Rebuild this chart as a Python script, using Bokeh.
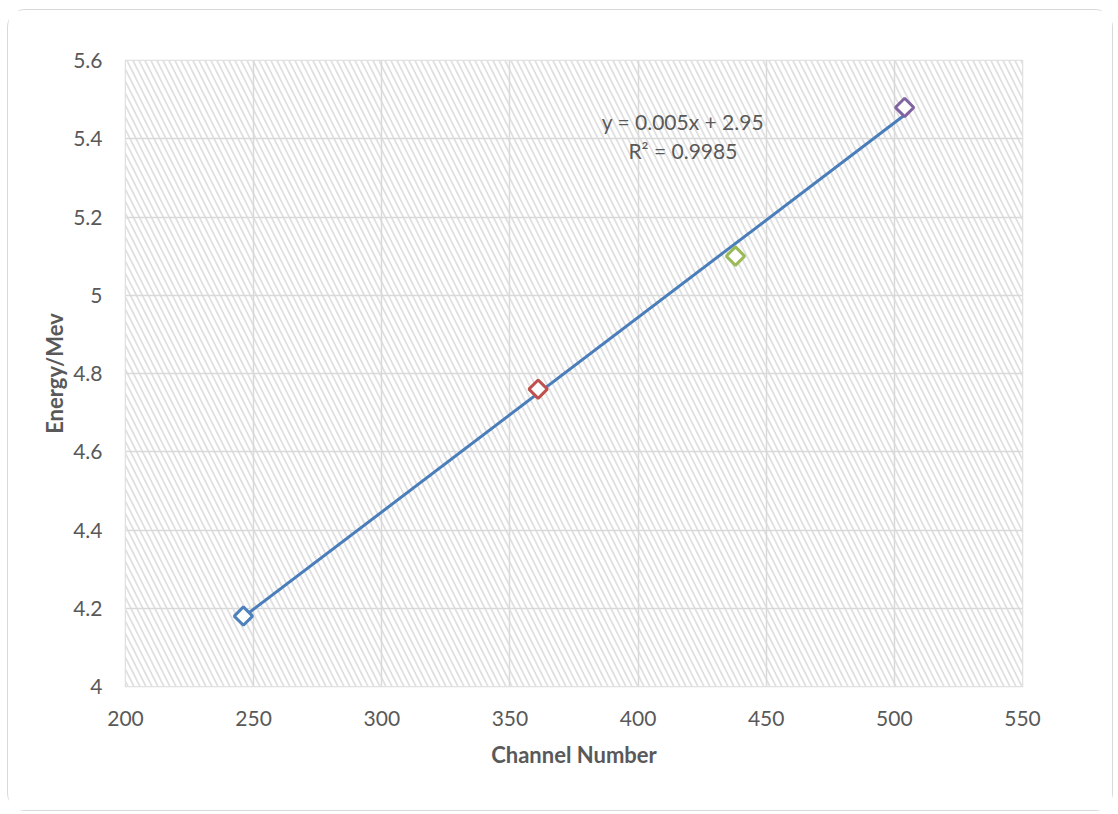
import numpy as np
from bokeh.plotting import figure
from bokeh.models import FixedTicker, BoxAnnotation, Label, ColumnDataSource
from bokeh.embed import file_html
from bokeh.resources import INLINE

# ---- data ----
channel = [246, 361, 438, 504]
energy = [4.18, 4.76, 5.10, 5.48]
point_colors = ["#4F81BD", "#C0504D", "#9BBB59", "#8064A2"]
x_ticks = [200, 250, 300, 350, 400, 450, 500, 550]
y_ticks = [4.0, 4.2, 4.4, 4.6, 4.8, 5.0, 5.2, 5.4, 5.6]
y_tick_labels = ["4", "4.2", "4.4", "4.6", "4.8", "5", "5.2", "5.4", "5.6"]
eq_text = "y = 0.005x + 2.95"
r2_text = "R² = 0.9985"
eq_pos = (417.5, 5.443)
r2_pos = (417.5, 5.37)

FONT = "Lato"
GRAY = "#595959"
GRID = "#d9d9d9"

p = figure(width=1106, height=802, output_backend="svg", toolbar_location=None,
           x_range=(200, 550), y_range=(4.0, 5.6),
           min_border_left=117, min_border_top=50, min_border_right=92, min_border_bottom=126)
p.styles = {"border": "1px solid #d9d9d9", "border-radius": "18px",
            "margin-left": "7px", "margin-top": "9px"}
p.background_fill_color = "white"
p.border_fill_color = "white"
p.outline_line_color = GRID
p.outline_line_width = 1.5

# hatched plot area
bg = BoxAnnotation(fill_color="white", fill_alpha=1.0, line_color=None,
                   hatch_pattern="left_diagonal_line", hatch_color="#e0e0e0",
                   hatch_scale=12, hatch_weight=1.8, level="image")
p.add_layout(bg)

p.xgrid.grid_line_color = GRID
p.ygrid.grid_line_color = GRID
p.xgrid.grid_line_width = 1.5
p.ygrid.grid_line_width = 1.5

p.xaxis.ticker = FixedTicker(ticks=x_ticks)
p.yaxis.ticker = FixedTicker(ticks=y_ticks)
p.yaxis.major_label_overrides = {t: l for t, l in zip(y_ticks, y_tick_labels)}

for ax in (p.xaxis, p.yaxis):
    ax.axis_line_color = None
    ax.major_tick_line_color = None
    ax.minor_tick_line_color = None
    ax.major_label_text_font = FONT
    ax.major_label_text_font_size = "21px"
    ax.major_label_text_color = GRAY
    ax.axis_label_text_font = FONT
    ax.axis_label_text_font_size = "22px"
    ax.axis_label_text_font_style = "bold"
    ax.axis_label_text_color = GRAY

p.xaxis.axis_label = "Channel Number"
p.yaxis.axis_label = "Energy/Mev"
p.xaxis.major_label_standoff = 18
p.yaxis.major_label_standoff = 17
p.xaxis.axis_label_standoff = 12
p.yaxis.axis_label_standoff = 2

# trendline (least squares fit)
slope, intercept = np.polyfit(channel, energy, 1)
xs = [min(channel), max(channel)]
ys = [slope * x + intercept for x in xs]
p.line(xs, ys, line_color="#4A7EBB", line_width=3)

src = ColumnDataSource(dict(x=channel, y=energy, c=point_colors))
p.scatter("x", "y", source=src, marker="square", size=13, angle=np.pi / 4,
          fill_color="white", line_color="c", line_width=3)

p.add_layout(Label(x=eq_pos[0], y=eq_pos[1], text=eq_text, text_align="center",
                   text_baseline="middle", text_font=FONT, text_font_size="21px",
                   text_color=GRAY))
p.add_layout(Label(x=r2_pos[0], y=r2_pos[1], text=r2_text, text_align="center",
                   text_baseline="middle", text_font=FONT, text_font_size="21px",
                   text_color=GRAY))

open("out.html", "w").write(file_html(p, INLINE))
